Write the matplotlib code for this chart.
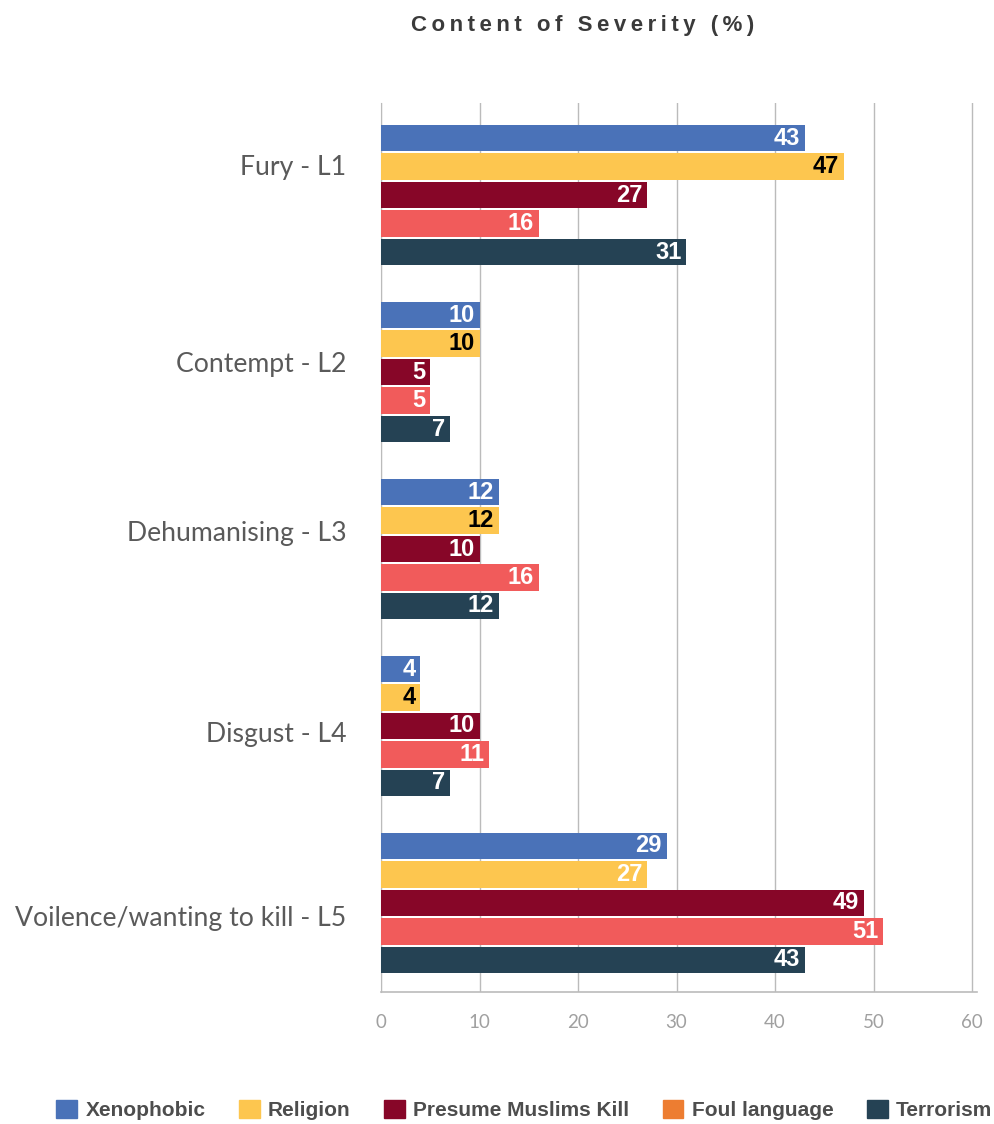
import matplotlib.pyplot as plt
import matplotlib.transforms as mtransforms
import numpy as np

# data
categories = ["Fury - L1", "Contempt - L2", "Dehumanising - L3", "Disgust - L4", "Voilence/wanting to kill - L5"]
series = ["Xenophobic", "Religion", "Presume Muslims Kill", "Foul language", "Terrorism"]
xenophobic = [43, 10, 12, 4, 29]
religion = [47, 10, 12, 4, 27]
presume_kill = [27, 5, 10, 10, 49]
foul_language = [16, 5, 16, 11, 51]
terrorism = [31, 7, 12, 7, 43]
x_ticks = [0, 10, 20, 30, 40, 50, 60]

values = [xenophobic, religion, presume_kill, foul_language, terrorism]
bar_colors = ["#4A72B8", "#FDC64F", "#870628", "#F15B5B", "#254254"]
legend_colors = ["#4A72B8", "#FDC64F", "#870628", "#ED7D31", "#254254"]
label_shift = [-30, -10, -18, 6, 13]  # px, category labels sit off-centre in the original
bold_font = ["Liberation Sans", "DejaVu Sans"]

fig = plt.figure(figsize=(9.95, 11.24), dpi=100)
ax = fig.add_axes([381 / 995, 1 - 992 / 1124, 596 / 995, 889 / 1124])

pitch = 0.161
height = 0.148
y = np.arange(len(categories))
for i, (vals, col) in enumerate(zip(values, bar_colors)):
    pos = y + (i - 2) * pitch
    ax.barh(pos, vals, height=height, color=col, edgecolor="none", zorder=3)
    for j, (p, v) in enumerate(zip(pos, vals)):
        tc = "black" if (i == 1 and j < 4) else "white"
        ax.text(v - 0.5, p, str(v), ha="right", va="center", color=tc,
                fontsize=17, fontweight="bold", family=bold_font, zorder=4)

ax.set_xlim(0, 60.5)
ax.set_ylim(4.503, -0.52)
ax.set_xticks(x_ticks)
ax.set_xticklabels([str(t) for t in x_ticks], fontsize=13.5, color="#A0A0A0", family="Lato")
ax.tick_params(axis="x", length=0, pad=16)
ax.set_yticks(y)
ax.set_yticklabels(categories, fontsize=19.2, color="#5A5A5A", family="Lato")
ax.tick_params(axis="y", length=0, pad=25)
for lab, dy in zip(ax.get_yticklabels(), label_shift):
    lab.set_transform(lab.get_transform() + mtransforms.ScaledTranslation(0, -dy / 100, fig.dpi_scale_trans))
ax.grid(axis="x", color="#BBBBBB", linewidth=1, zorder=0)
for s in ["top", "right"]:
    ax.spines[s].set_visible(False)
ax.spines["left"].set_color("#BBBBBB")
ax.spines["bottom"].set_color("#BBBBBB")
ax.spines["bottom"].set_linewidth(1.2)

title = "\u2009".join("Content of Severity (%)")
fig.text(583 / 995, 1 - 25 / 1124, title, ha="center", va="center",
         fontsize=16, fontweight="bold", color="#3A3A3A", family=bold_font)

handles = [plt.Rectangle((0, 0), 1, 1, color=c) for c in legend_colors]
fig.legend(handles, series, loc="center", bbox_to_anchor=(0.527, 1 - 1110 / 1124), ncol=5,
           frameon=False, handlelength=1.0, handleheight=1.0, handletextpad=0.4,
           columnspacing=1.6, prop={"family": bold_font, "weight": "bold", "size": 15})
for t in fig.legends[0].get_texts():
    t.set_color("#4D4D4D")

fig.savefig("out.png", dpi=100)
